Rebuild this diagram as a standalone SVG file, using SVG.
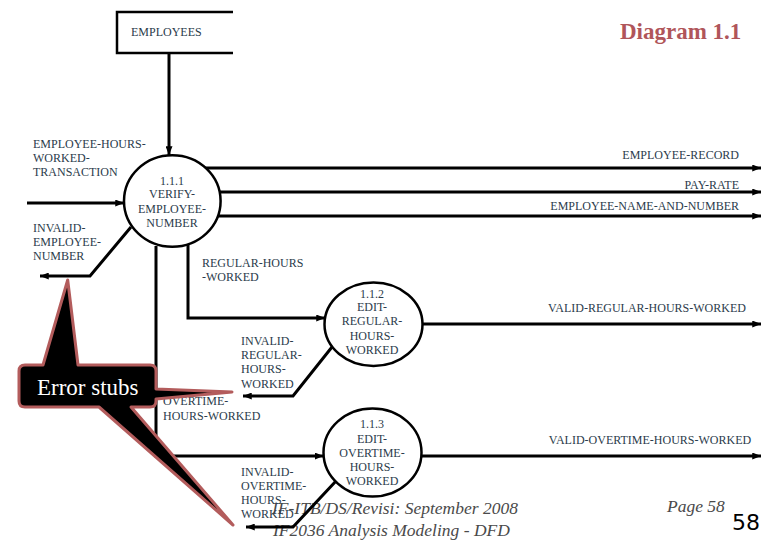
<svg xmlns="http://www.w3.org/2000/svg" width="780" height="540" viewBox="0 0 780 540">
<style>
.t{font-family:"Liberation Serif","Times New Roman",serif;font-size:12px;fill:#2b3b4b}
.c{text-anchor:middle}
.r{text-anchor:end}
.ln{fill:none;stroke:#000;stroke-width:3}
.nd{fill:#fff;stroke:#000;stroke-width:2.5}
.ft{font-family:"Liberation Serif","Times New Roman",serif;font-style:italic;font-size:17.5px;fill:#4a4a4a}
</style>
<defs>
<marker id="ah" viewBox="0 0 10 8" refX="10" refY="4" markerWidth="9" markerHeight="7" markerUnits="userSpaceOnUse" orient="auto">
<path d="M0,0L10,4L0,8Z" fill="#000"/>
</marker>
</defs>
<rect width="780" height="540" fill="#fff"/>
<g id="footer">
<text class="ft" x="272" y="514">IF-ITB/DS/Revisi: September 2008</text>
<text class="ft" x="273" y="536">IF2036 Analysis Modeling - DFD</text>
<text class="ft" x="667" y="512">Page 58</text>
<text x="732" y="530" font-family="DejaVu Sans,sans-serif" font-size="22" fill="#000">58</text>
</g>
<g id="connectors">
<path class="ln" d="M169,53V155" marker-end="url(#ah)" stroke-width="2.5"/>
<path class="ln" d="M27,203H124" marker-end="url(#ah)"/>
<path class="ln" d="M131,227L90,276H40" marker-end="url(#ah)"/>
<path class="ln" d="M205,168H761" marker-end="url(#ah)"/>
<path class="ln" d="M219,192H761" marker-end="url(#ah)"/>
<path class="ln" d="M218,216H761" marker-end="url(#ah)"/>
<path class="ln" d="M188,244V318H325" marker-end="url(#ah)"/>
<path class="ln" d="M156,246V456H323.5" marker-end="url(#ah)" stroke-width="2"/>
<path class="ln" d="M423,324H761" marker-end="url(#ah)"/>
<path class="ln" d="M332,347L293,396H243" marker-end="url(#ah)"/>
<path class="ln" d="M421.5,456H761" marker-end="url(#ah)"/>
<path class="ln" d="M336,481L293,527H246" marker-end="url(#ah)"/>
</g>
<g id="employees">
<path d="M233,12H117V53H233" fill="none" stroke="#000" stroke-width="2.5"/>
<text class="t" x="131" y="36">EMPLOYEES</text>
</g>
<g id="p111">
<ellipse class="nd" cx="172.3" cy="201" rx="48.3" ry="45.8"/>
<text class="t c" x="172" y="185">1.1.1</text>
<text class="t c" x="172" y="198">VERIFY-</text>
<text class="t c" x="172" y="213">EMPLOYEE-</text>
<text class="t c" x="172" y="227">NUMBER</text>
</g>
<g id="p112">
<ellipse class="nd" cx="373.5" cy="324.3" rx="49" ry="41.7"/>
<text class="t c" x="372" y="297.5">1.1.2</text>
<text class="t c" x="372" y="311">EDIT-</text>
<text class="t c" x="372" y="325">REGULAR-</text>
<text class="t c" x="372" y="340">HOURS-</text>
<text class="t c" x="372" y="354">WORKED</text>
</g>
<g id="p113">
<ellipse class="nd" cx="372.5" cy="452.5" rx="49" ry="44"/>
<text class="t c" x="372" y="428">1.1.3</text>
<text class="t c" x="372" y="442.5">EDIT-</text>
<text class="t c" x="372" y="457">OVERTIME-</text>
<text class="t c" x="372" y="471">HOURS-</text>
<text class="t c" x="372" y="485">WORKED</text>
</g>
<g id="labels">
<text class="t" x="33" y="148">EMPLOYEE-HOURS-</text>
<text class="t" x="33" y="162">WORKED-</text>
<text class="t" x="33" y="176">TRANSACTION</text>
<text class="t" x="33" y="232">INVALID-</text>
<text class="t" x="33" y="246">EMPLOYEE-</text>
<text class="t" x="33" y="260">NUMBER</text>
<text class="t r" x="739" y="159">EMPLOYEE-RECORD</text>
<text class="t r" x="739" y="189">PAY-RATE</text>
<text class="t r" x="739" y="210">EMPLOYEE-NAME-AND-NUMBER</text>
<text class="t" x="202" y="267">REGULAR-HOURS</text>
<text class="t" x="202" y="281">-WORKED</text>
<text class="t" x="241" y="345">INVALID-</text>
<text class="t" x="241" y="359">REGULAR-</text>
<text class="t" x="241" y="373">HOURS-</text>
<text class="t" x="241" y="388">WORKED</text>
<text class="t" x="163" y="405">OVERTIME-</text>
<text class="t" x="163" y="420">HOURS-WORKED</text>
<text class="t" x="241" y="476">INVALID-</text>
<text class="t" x="241" y="490">OVERTIME-</text>
<text class="t" x="241" y="504">HOURS-</text>
<text class="t" x="241" y="518">WORKED</text>
<text class="t c" x="647" y="312">VALID-REGULAR-HOURS-WORKED</text>
<text class="t c" x="650" y="444">VALID-OVERTIME-HOURS-WORKED</text>
</g>
<g id="title">
<text x="620" y="39" font-family="Liberation Serif,'Times New Roman',serif" font-weight="bold" font-size="23" fill="#b0555a">Diagram 1.1</text>
</g>
<g id="callout">
<path d="M25,365L43,365L67.7,280L78,365L150,365Q156,365 156,371L156,389L232,392L156,399L156,401Q156,407 150,407L131,407L233,525L99,407L25,407Q19,407 19,401L19,371Q19,365 25,365Z" fill="#000" stroke="#b35c5c" stroke-width="3" stroke-linejoin="round"/>
<text x="37" y="395" font-family="Liberation Serif,'Times New Roman',serif" font-size="23" fill="#fff">Error stubs</text>
</g>
</svg>
